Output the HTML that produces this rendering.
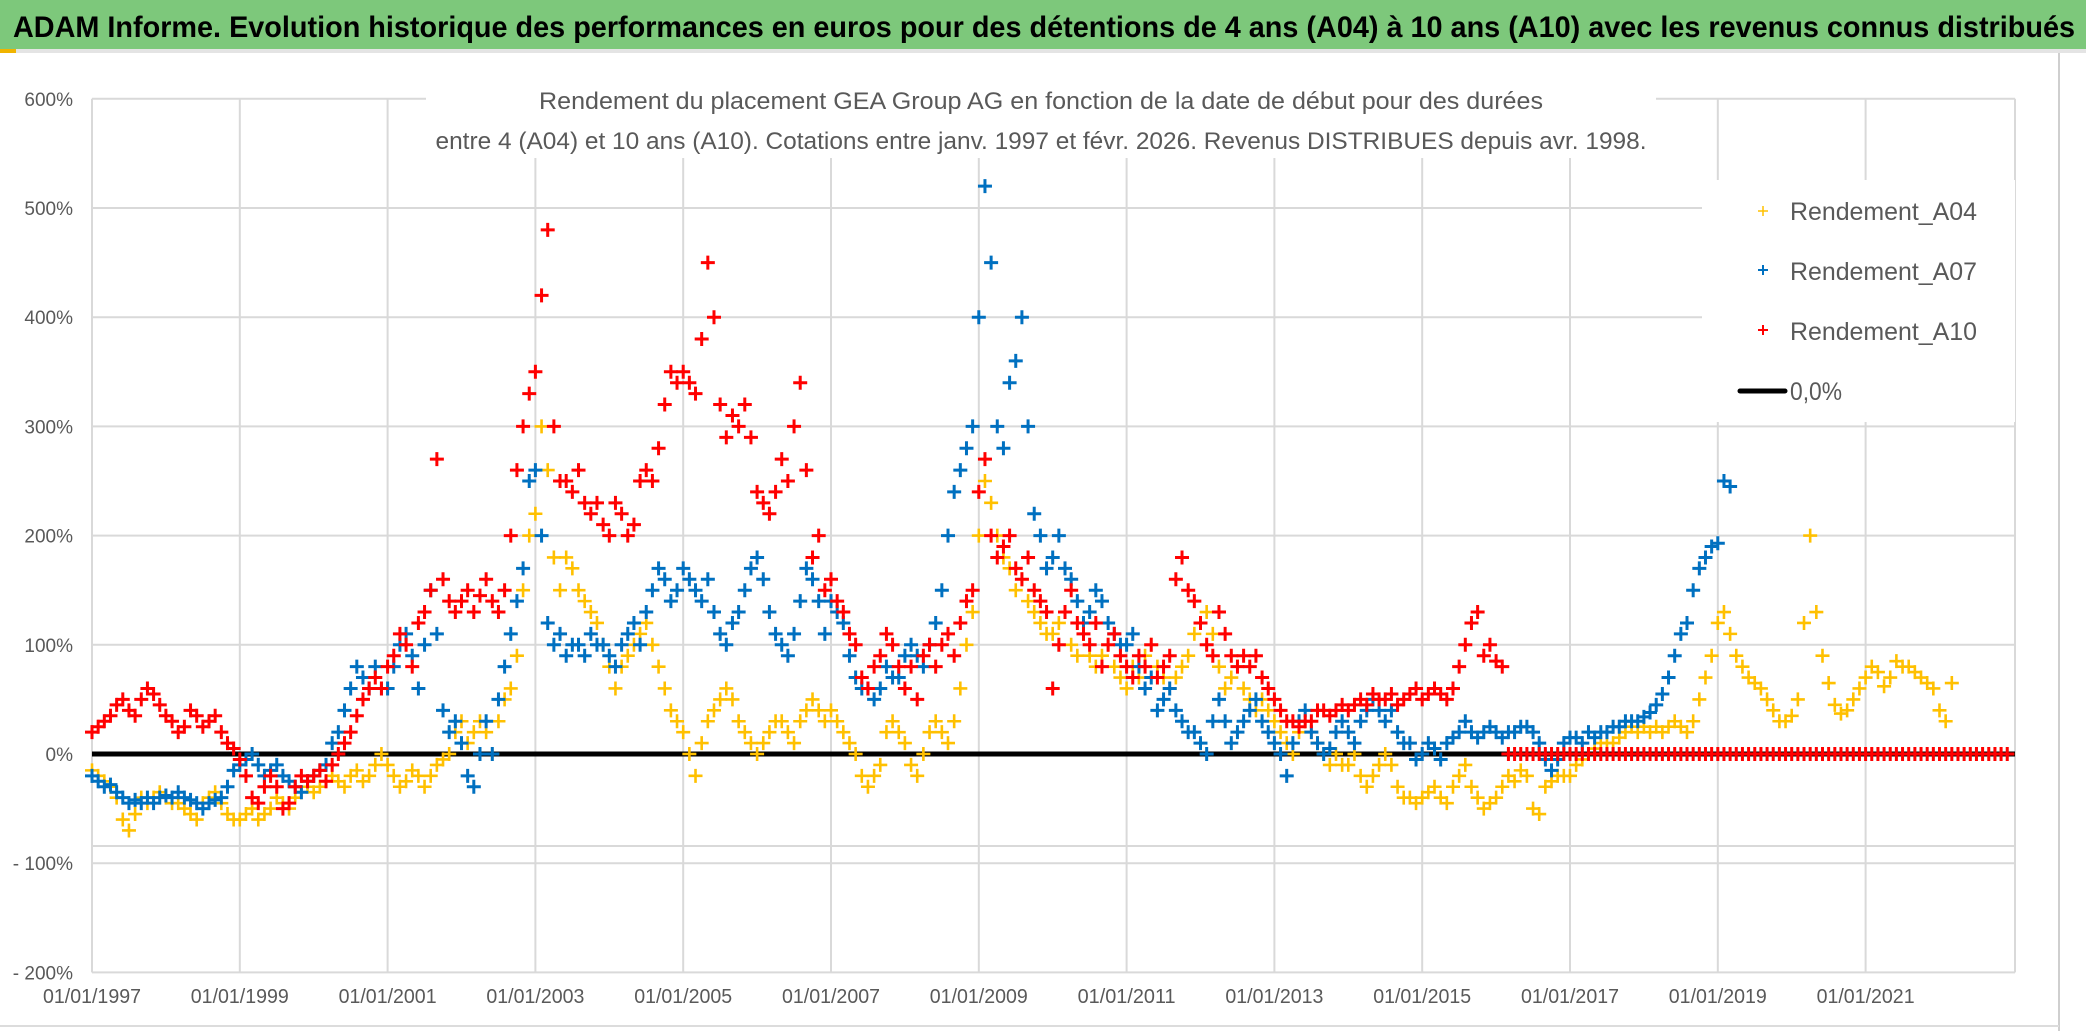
<!DOCTYPE html>
<html><head><meta charset="utf-8">
<style>
html,body{margin:0;padding:0;background:#fff;}
svg{display:block;}
</style></head>
<body>
<svg id="chart" width="2086" height="1031" viewBox="0 0 2086 1031" xmlns="http://www.w3.org/2000/svg" font-family="'Liberation Sans', sans-serif">
<rect x="0" y="0" width="2086" height="1031" fill="#fff"/>
<rect x="0" y="0" width="2086" height="49" fill="#7DC87B"/>
<rect x="0" y="49" width="2086" height="4" fill="#e4e4e4"/>
<rect x="0" y="49" width="16" height="4" fill="#f0b400"/>
<text x="13" y="37" font-size="30" font-weight="bold" fill="#000" textLength="2062" lengthAdjust="spacingAndGlyphs">ADAM Informe. Evolution historique des performances en euros pour des détentions de 4 ans (A04) à 10 ans (A10) avec les revenus connus distribués</text>
<line x1="2059" y1="53" x2="2059" y2="1031" stroke="#cfcfcf" stroke-width="2"/>
<line x1="0" y1="1026" x2="2059" y2="1026" stroke="#dcdcdc" stroke-width="2"/>
<g id="grid"></g>
<g id="axes"></g>
<g id="series"></g>
<rect x="426" y="80" width="1230" height="78" fill="#fff"/>
<text x="1041" y="109" font-size="24" fill="#595959" text-anchor="middle" textLength="1004" lengthAdjust="spacingAndGlyphs">Rendement du placement GEA Group AG en fonction de la date de début pour des durées</text>
<text x="1041" y="149" font-size="24" fill="#595959" text-anchor="middle" textLength="1211" lengthAdjust="spacingAndGlyphs">entre 4 (A04) et 10 ans (A10). Cotations entre janv. 1997 et févr. 2026. Revenus DISTRIBUES depuis avr. 1998.</text>
<g>
<rect x="1702" y="180" width="313" height="242" fill="#fff"/>
<g>
<path d="M1758 211h10M1763 206v10" stroke="#FFC000" stroke-width="1.5"/>
<text x="1790" y="220" font-size="25" fill="#595959" textLength="187" lengthAdjust="spacingAndGlyphs">Rendement_A04</text></g>
<g>
<path d="M1758 270h10M1763 265v10" stroke="#0070C0" stroke-width="2"/>
<text x="1790" y="280" font-size="25" fill="#595959" textLength="187" lengthAdjust="spacingAndGlyphs">Rendement_A07</text></g>
<g>
<path d="M1758 330h10M1763 325v10" stroke="#FF0000" stroke-width="2"/>
<text x="1790" y="340" font-size="25" fill="#595959" textLength="187" lengthAdjust="spacingAndGlyphs">Rendement_A10</text></g>
<g>
<line x1="1740" y1="391" x2="1785" y2="391" stroke="#000" stroke-width="5" stroke-linecap="round"/>
<text x="1790" y="400" font-size="25" fill="#595959" textLength="52" lengthAdjust="spacingAndGlyphs">0,0%</text></g>
</g>
</svg>
<script>
const yTickValues = [600,500,400,300,200,100,0,-100,-200];
const yTickLabels = ["600%","500%","400%","300%","200%","100%","0%","- 100%","- 200%"];
const xTickYears = [1997,1999,2001,2003,2005,2007,2009,2011,2013,2015,2017,2019,2021];
const xTickLabels = ["01/01/1997","01/01/1999","01/01/2001","01/01/2003","01/01/2005","01/01/2007","01/01/2009","01/01/2011","01/01/2013","01/01/2015","01/01/2017","01/01/2019","01/01/2021"];
const startYear = 1997;
// monthly values (%), starting Jan 1997
const rendementA04 = [
-15,-20,-25,-30,-40,-60,-70,-55,-40,-45,-40,-35,
-40,-45,-45,-50,-55,-60,-45,-40,-35,-45,-55,-60,
-60,-55,-50,-60,-55,-50,-40,-45,-50,-40,-35,-30,
-35,-30,-25,-20,-25,-30,-20,-15,-25,-20,-10,0,
-10,-20,-30,-25,-15,-20,-30,-20,-10,-5,0,20,
30,10,20,30,20,0,30,50,60,90,150,200,
220,300,260,180,150,180,170,150,140,130,120,100,
80,60,80,90,100,110,120,100,80,60,40,30,
20,0,-20,10,30,40,50,60,50,30,20,10,
0,10,20,30,30,20,10,30,40,50,40,30,
40,30,20,10,0,-20,-30,-20,-10,20,30,20,
10,-10,-20,0,20,30,20,10,30,60,100,130,
200,250,230,200,180,170,150,160,140,130,120,110,
110,120,130,100,90,110,90,80,90,100,80,70,
60,80,70,90,100,80,70,60,70,80,90,110,
120,130,110,80,60,70,80,60,50,40,50,40,
30,20,10,0,20,30,20,10,0,-10,0,-10,
-10,0,-20,-30,-20,-10,0,-10,-30,-40,-40,-45,
-40,-35,-30,-40,-45,-30,-20,-10,-30,-40,-50,-45,
-40,-30,-20,-25,-15,-20,-50,-55,-30,-25,-20,-20,
-20,-10,-5,0,5,10,10,10,15,20,25,20,
25,20,25,20,25,30,25,20,30,50,70,90,
120,130,110,90,80,70,65,60,50,40,30,30,
35,50,120,200,130,90,65,45,37,40,50,60,
70,80,75,62,70,85,80,80,75,70,65,60,
40,30,65,0,0,0,0,0,0,0,0,0];
const rendementA07 = [
-20,-25,-30,-28,-35,-40,-45,-42,-45,-40,-45,-40,
-38,-40,-35,-40,-42,-45,-50,-45,-42,-40,-30,-15,
-10,-5,0,-10,-20,-15,-10,-20,-25,-30,-35,-25,
-20,-15,-10,10,20,40,60,80,70,60,80,60,
60,80,100,110,90,60,100,150,110,40,20,30,
10,-20,-30,0,30,0,50,80,110,140,170,250,
260,200,120,100,110,90,100,100,90,110,100,100,
90,80,100,110,120,100,130,150,170,160,140,150,
170,160,150,140,160,130,110,100,120,130,150,170,
180,160,130,110,100,90,110,140,170,160,140,110,
140,130,120,90,70,60,60,50,60,80,70,70,
90,100,90,80,100,120,150,200,240,260,280,300,
400,520,450,300,280,340,360,400,300,220,200,170,
180,200,170,160,140,120,130,150,140,120,110,100,
100,110,80,60,70,40,50,60,40,30,20,20,
10,0,30,50,30,10,20,30,40,50,30,20,
10,0,-20,10,30,40,20,10,0,5,20,30,
20,10,30,40,50,40,30,40,20,10,10,-5,
0,10,5,-5,10,15,20,30,20,15,20,25,
20,15,20,20,25,25,20,10,-5,-15,-5,10,
15,15,10,20,15,20,20,25,25,30,30,30,
34,38,45,55,70,90,110,120,150,170,180,190,
193,250,245];
const rendementA10 = [
20,25,30,35,45,50,40,35,50,60,55,45,
35,30,20,25,40,35,25,30,35,20,10,5,
-5,-20,-40,-45,-30,-20,-30,-50,-45,-30,-20,-25,
-20,-15,-25,-10,0,10,20,35,50,60,70,60,
80,90,110,100,80,120,130,150,270,160,140,130,
140,150,130,145,160,140,130,150,200,260,300,330,
350,420,480,300,250,250,240,260,230,220,230,210,
200,230,220,200,210,250,260,250,280,320,350,340,
350,340,330,380,450,400,320,290,310,300,320,290,
240,230,220,240,270,250,300,340,260,180,200,150,
160,140,130,110,100,70,60,80,90,110,100,80,
60,80,50,90,100,80,100,110,90,120,140,150,
240,270,200,180,190,200,170,160,180,150,140,130,
60,100,130,150,120,110,100,120,80,100,110,90,
80,70,90,80,100,70,80,90,160,180,150,140,
120,100,90,130,110,90,80,90,80,90,70,60,
50,40,30,30,25,30,30,40,40,35,40,45,
40,45,50,45,55,50,50,55,45,50,55,60,
50,55,60,55,50,60,80,100,120,130,90,100,
85,80,0,0,0,0,0,0,0,0,0,0,
0,0,0,0,0,0,0,0,0,0,0,0,
0,0,0,0,0,0,0,0,0,0,0,0,
0,0,0,0,0,0,0,0,0,0,0,0,
0,0,0,0,0,0,0,0,0,0,0,0,
0,0,0,0,0,0,0,0,0,0,0,0,
0,0,0,0,0,0,0,0,0,0,0,0];

const NS = "http://www.w3.org/2000/svg";
const plotL = 92, plotR = 2015, pxPerYear = 73.9;
const y0 = 754, pxPerPct = 1.092;
function xScale(year){ return plotL + (year - startYear) * pxPerYear; }
function yScale(v){ return y0 - v * pxPerPct; }
function mk(tag, attrs, parent){ const e = document.createElementNS(NS, tag); for (const k in attrs) e.setAttribute(k, attrs[k]); parent.appendChild(e); return e; }

const grid = document.getElementById('grid');
const axes = document.getElementById('axes');
const series = document.getElementById('series');

yTickValues.forEach((v, i) => {
  const y = yScale(v);
  const ln = mk('line', {x1: plotL, y1: y, x2: plotR, y2: y, stroke: '#d9d9d9', 'stroke-width': 2}, grid);
  
  
  const t = mk('text', {x: 73, y: y + 7, 'font-size': 19, fill: '#595959', 'text-anchor': 'end'}, axes);
  t.textContent = yTickLabels[i];
  
  
});
const extra = mk('line', {x1: plotL, y1: 846, x2: plotR, y2: 846, stroke: '#d9d9d9', 'stroke-width': 2}, grid);


xTickYears.forEach((yr, i) => {
  const x = xScale(yr);
  const ln = mk('line', {x1: x, y1: yScale(600), x2: x, y2: yScale(-200), stroke: '#d9d9d9', 'stroke-width': 2}, grid);
  
  
  const t = mk('text', {x: x, y: 1003, 'font-size': 20, fill: '#595959', 'text-anchor': 'middle', textLength: 98, lengthAdjust: 'spacingAndGlyphs'}, axes);
  t.textContent = xTickLabels[i];
  
  
});
const rb = mk('line', {x1: plotR, y1: yScale(600), x2: plotR, y2: yScale(-200), stroke: '#d9d9d9', 'stroke-width': 2}, grid);



const zl = mk('line', {x1: plotL, y1: yScale(0), x2: plotR, y2: yScale(0), stroke: '#000', 'stroke-width': 5}, series);



function drawSeries(arr, color, sw, half, name){
  const g = mk('g', {}, series);
  
  
  arr.forEach((v, i) => {
    if (v === null) return;
    const x = xScale(startYear + i / 12), y = yScale(v);
    const p = mk('path', {d: `M${x-half} ${y}h${2*half}M${x} ${y-half}v${2*half}`, stroke: color, 'stroke-width': sw, fill: 'none'}, g);
    
    
  });
}
drawSeries(rendementA04, '#FFC000', 2.6, 7, 'series-a04');
drawSeries(rendementA07, '#0070C0', 3, 7, 'series-a07');
drawSeries(rendementA10, '#FF0000', 3, 7, 'series-a10');
</script>
</body></html>
